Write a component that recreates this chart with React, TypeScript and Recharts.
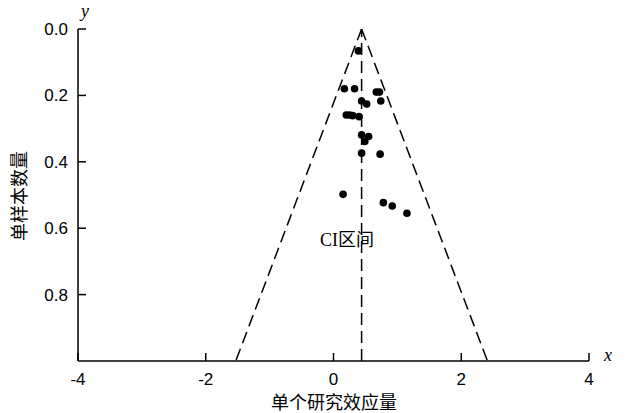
import { ScatterChart, Scatter, XAxis, YAxis, ReferenceLine } from 'recharts';

// study effect sizes and their per-sample values
const effects = [0.39, 0.17, 0.33, 0.67, 0.72, 0.44, 0.52, 0.74, 0.2, 0.25, 0.3, 0.4, 0.44, 0.55, 0.49, 0.44, 0.73, 0.15, 0.78, 0.92, 1.15];
const sampleVals = [0.066, 0.18, 0.18, 0.19, 0.19, 0.217, 0.226, 0.217, 0.259, 0.259, 0.261, 0.264, 0.319, 0.324, 0.339, 0.374, 0.377, 0.498, 0.523, 0.533, 0.555];

const meanEffect = 0.44;
const funnelLeftX = [0.44, -1.53];
const funnelRightX = [0.44, 2.41];
const funnelY = [0, 1];

const xTicks = [-4, -2, 0, 2, 4];
const yTicks = [0, 0.2, 0.4, 0.6, 0.8];

const points = effects.map((x, i) => ({ x, y: sampleVals[i] }));
const leftEdge = funnelLeftX.map((x, i) => ({ x, y: funnelY[i] }));
const rightEdge = funnelRightX.map((x, i) => ({ x, y: funnelY[i] }));

const AXIS_X = 78;
const AXIS_Y = 361;
const tickFont = '"Liberation Sans", Arial, sans-serif';
const cjkFont = '"Noto Sans CJK SC", sans-serif';

const YTick = ({ y, payload }: any) => (
  <g>
    <line x1={AXIS_X} x2={AXIS_X + 8} y1={y} y2={y} stroke="#000" strokeWidth={1.5} />
    <text x={68} y={y} dy={6} textAnchor="end" fontSize={17} fontFamily={tickFont} fill="#000">
      {payload.value.toFixed(1)}
    </text>
  </g>
);

const XTick = ({ x, payload }: any) => (
  <g>
    <line x1={x} x2={x} y1={AXIS_Y} y2={AXIS_Y - 8} stroke="#000" strokeWidth={1.5} />
    <text x={x} y={AXIS_Y + 24} textAnchor="middle" fontSize={17} fontFamily={tickFont} fill="#000">
      {payload.value}
    </text>
  </g>
);

const noShape = () => <g />;
const dashed = { stroke: '#000', strokeWidth: 1.5, strokeDasharray: '12 6' };

export default function App() {
  return (
    <div style={{ position: 'absolute', left: 0, top: 0, width: 627, height: 413, background: '#fff' }}>
      <ScatterChart width={627} height={413} margin={{ top: 29, right: 38, left: 0, bottom: 0 }}>
        <XAxis
          type="number"
          dataKey="x"
          domain={[-4, 4]}
          ticks={xTicks}
          height={52}
          tickLine={false}
          axisLine={{ stroke: '#000', strokeWidth: 1.5 }}
          tick={<XTick />}
          allowDataOverflow
        />
        <YAxis
          type="number"
          dataKey="y"
          domain={[0, 1]}
          ticks={yTicks}
          reversed
          width={78}
          tickLine={false}
          axisLine={{ stroke: '#000', strokeWidth: 1.5 }}
          tick={<YTick />}
          allowDataOverflow
        />
        <ReferenceLine x={meanEffect} {...dashed} />
        <Scatter data={leftEdge} line={dashed} shape={noShape} isAnimationActive={false} />
        <Scatter data={rightEdge} line={dashed} shape={noShape} isAnimationActive={false} />
        <Scatter data={points} fill="#000" isAnimationActive={false} shape={(p: any) => <circle cx={p.cx} cy={p.cy} r={3.8} fill="#000" />} />
      </ScatterChart>
      <div style={{ position: 'absolute', left: 81, top: 1, fontFamily: '"Liberation Serif", serif', fontStyle: 'italic', fontSize: 18, lineHeight: '20px' }}>y</div>
      <div style={{ position: 'absolute', left: 604, top: 345, fontFamily: '"Liberation Serif", serif', fontStyle: 'italic', fontSize: 18, lineHeight: '20px' }}>x</div>
      <div style={{ position: 'absolute', left: 320, top: 229, fontSize: 18, fontFamily: '"Liberation Serif", "Noto Sans CJK SC", serif', lineHeight: '22px' }}>CI区间</div>
      <div style={{ position: 'absolute', left: 334, top: 390, transform: 'translateX(-50%)', fontSize: 18, fontFamily: cjkFont, lineHeight: '22px', whiteSpace: 'nowrap' }}>单个研究效应量</div>
      <div style={{ position: 'absolute', left: 18, top: 196, transform: 'translate(-50%, -50%) rotate(-90deg)', fontSize: 18, fontFamily: cjkFont, lineHeight: '22px', whiteSpace: 'nowrap' }}>单样本数量</div>
    </div>
  );
}
